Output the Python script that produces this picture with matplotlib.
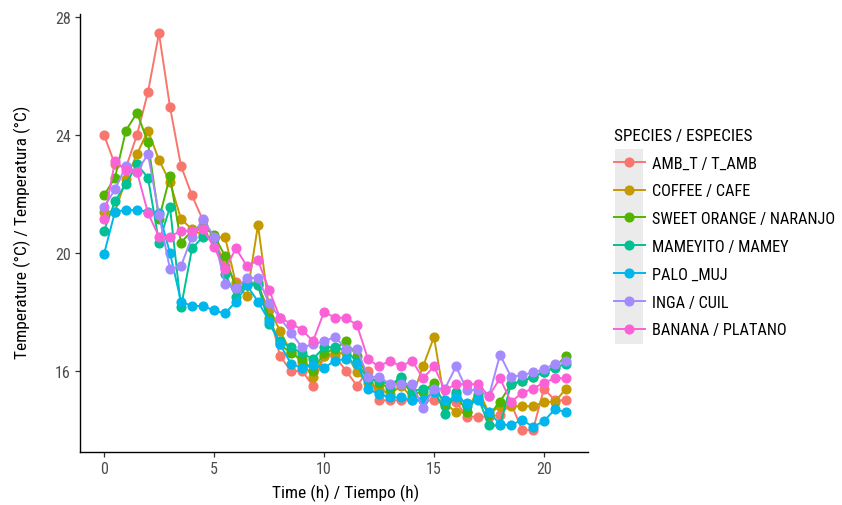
import matplotlib
matplotlib.use("Agg")
import matplotlib.pyplot as plt
from matplotlib import font_manager
from matplotlib.patches import Rectangle
from matplotlib.lines import Line2D
import numpy as np

avail = {f.name for f in font_manager.fontManager.ttflist}
fam = next((f for f in ["Liberation Sans Narrow", "Roboto Condensed", "Arial Narrow", "Liberation Sans", "DejaVu Sans"] if f in avail), "DejaVu Sans")
plt.rcParams['font.family'] = [fam, 'DejaVu Sans']

time_h = np.arange(0, 21.01, 0.5)

species = ["AMB_T / T_AMB", "COFFEE / CAFE", "SWEET ORANGE / NARANJO", "MAMEYITO / MAMEY",
           "PALO _MUJ", "INGA / CUIL", "BANANA / PLATANO"]
colors = ["#F8766D", "#C49A00", "#53B400", "#00C094", "#00B6EB", "#A58AFF", "#FB61D7"]

amb_t = [24.0, 23.0, 22.9, 24.0, 25.45, 27.45, 24.95, 22.95, 21.95, 21.1, 20.55, 19.55, 19.0, 18.95, 18.9,
         18.05, 16.5, 16.0, 16.0, 15.5, 16.5, 16.5, 16.0, 15.5, 16.0, 15.0, 15.0, 15.0, 15.0, 15.0, 15.0,
         14.95, 14.95, 14.45, 14.45, 14.45, 14.5, 14.9, 14.0, 14.0, 15.4, 15.0, 15.0]
coffee = [21.4, 21.4, 22.5, 23.35, 24.15, 23.15, 22.4, 21.15, 20.8, 20.6, 20.5, 20.55, 18.95, 18.55, 20.95,
          18.15, 17.35, 16.65, 16.3, 15.8, 16.5, 16.6, 16.6, 15.95, 15.6, 15.4, 15.2, 15.5, 15.1, 16.15, 17.15,
          14.9, 14.6, 14.6, 15.4, 14.55, 14.8, 14.8, 14.8, 14.8, 14.95, 14.95, 15.4]
sweet_orange = [21.95, 22.55, 24.15, 24.75, 23.75, 21.15, 22.6, 20.35, 20.75, 20.9, 20.6, 19.9, 18.8, 18.9, 19.0,
                17.8, 16.9, 16.6, 16.4, 16.0, 16.6, 16.75, 17.0, 16.5, 15.8, 15.6, 15.4, 15.75, 15.2, 15.3, 15.6,
                14.8, 15.2, 14.6, 15.2, 14.5, 14.95, 15.55, 15.65, 15.8, 15.95, 16.15, 16.5]
mameyito = [20.75, 21.75, 22.35, 23.0, 22.55, 20.35, 21.55, 18.15, 20.15, 20.55, 20.5, 19.3, 18.5, 19.0, 18.9,
            17.6, 17.0, 16.8, 16.6, 16.4, 16.8, 16.8, 16.7, 16.3, 15.7, 15.7, 15.5, 15.8, 15.3, 15.4, 15.4,
            14.55, 15.3, 14.8, 15.1, 14.15, 14.15, 15.55, 15.65, 15.8, 15.95, 16.1, 16.25]
palo_muj = [19.95, 21.4, 21.45, 21.45, 21.4, 21.35, 20.0, 18.35, 18.2, 18.2, 18.05, 17.95, 18.35, 18.9, 18.35,
            17.7, 16.9, 16.25, 16.1, 16.2, 16.1, 16.35, 16.4, 16.25, 15.4, 15.2, 15.1, 15.1, 15.0, 15.0, 15.3,
            15.0, 15.1, 14.9, 15.0, 14.6, 14.2, 14.15, 14.35, 14.1, 14.3, 14.7, 14.6]
inga = [21.55, 22.15, 22.95, 22.75, 23.35, 21.3, 19.45, 19.55, 20.55, 21.15, 20.55, 18.95, 18.8, 19.15, 19.15,
        18.3, 17.8, 17.3, 16.8, 16.9, 17.0, 17.15, 16.75, 16.75, 15.8, 15.8, 15.55, 15.55, 15.55, 14.75, 15.4,
        15.4, 16.15, 15.35, 15.35, 15.15, 16.55, 15.8, 15.85, 15.95, 16.05, 16.25, 16.35]
banana = [21.15, 23.1, 22.8, 22.75, 21.35, 20.55, 20.55, 20.75, 20.75, 20.8, 20.2, 19.45, 20.15, 19.55, 19.75,
          18.75, 17.8, 17.6, 17.4, 17.0, 18.0, 17.8, 17.8, 17.55, 16.4, 16.15, 16.35, 16.15, 16.35, 15.75, 16.15,
          15.35, 15.55, 15.55, 15.55, 15.15, 15.75, 14.95, 15.25, 15.4, 15.6, 15.75, 15.75]

series = [amb_t, coffee, sweet_orange, mameyito, palo_muj, inga, banana]

W, H = 842, 506
fig = plt.figure(figsize=(W / 100, H / 100), dpi=100)
fig.patch.set_facecolor("white")
ax = fig.add_axes([80 / W, 1 - 453 / H, (588 - 80) / W, (453 - 15) / H])

for vals, col in zip(series, colors):
    ax.plot(time_h, vals, color=col, lw=1.4, marker="o", ms=6.3, mec=col, mfc=col)

ax.set_xlim(-1.09, 22.0)
ax.set_ylim(13.25, 28.1)
ax.set_xticks([0, 5, 10, 15, 20])
ax.set_yticks([16, 20, 24, 28])
for s in ["top", "right"]:
    ax.spines[s].set_visible(False)
for s in ["left", "bottom"]:
    ax.spines[s].set_linewidth(1.0)
    ax.spines[s].set_color("black")
ax.tick_params(axis="both", length=3.5, width=0.9, color="#333333", labelsize=11.5, labelcolor="#4D4D4D", pad=3)
ax.set_xlabel("Time (h) / Tiempo (h)", fontsize=12.5)
ax.set_ylabel("Temperature (\u00b0C) / Temperatura (\u00b0C)", fontsize=12.5)
ax.xaxis.set_label_coords((346 - 80) / 508, -(485 - 453) / 438, transform=ax.transAxes)
ax.yaxis.set_label_coords(-(80 - 31) / 508, (453 - 232) / 438, transform=ax.transAxes)

# legend key background
fig.patches.append(Rectangle((615 / W, 1 - 345 / H), 28 / W, 195 / H, transform=fig.transFigure,
                             facecolor="#EBEBEB", edgecolor="none", zorder=0))
handles = [Line2D([0], [0], color=c, lw=1.4, marker="o", ms=6.3) for c in colors]
leg = fig.legend(handles, species, loc="upper left", bbox_to_anchor=(599 / W, 1 - 114 / H),
                 frameon=False, fontsize=11.7, title="SPECIES / ESPECIES", title_fontsize=12.3,
                 handlelength=1.9, handletextpad=0.45, labelspacing=0.79, alignment="left")

fig.savefig("out.png", dpi=100)
